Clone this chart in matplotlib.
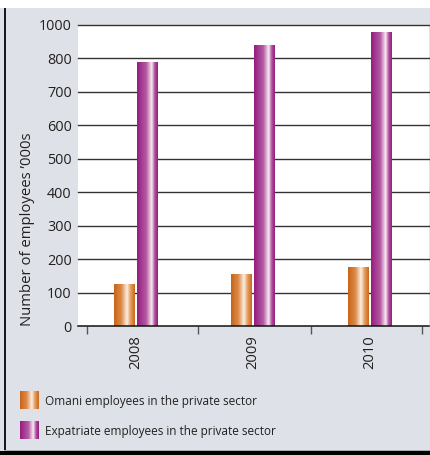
import numpy as np
import matplotlib
matplotlib.use("Agg")
import matplotlib.pyplot as plt
from matplotlib.colors import LinearSegmentedColormap
from matplotlib.patches import Rectangle

# Data (thousands of employees)
years = ["2008", "2009", "2010"]
omani = [125, 155, 176]
expatriate = [789, 837, 878]
series_names = ["Omani employees in the private sector",
                "Expatriate employees in the private sector"]
y_ticks = [0, 100, 200, 300, 400, 500, 600, 700, 800, 900]
y_tick_labels = ["0", "100", "200", "300", "400", "500", "600", "700", "800", "1000"]

plt.rcParams["font.family"] = ["Open Sans", "DejaVu Sans"]
TEXT = "#231F20"
BG = "#DEE2E8"

W, H = 430, 455
fig = plt.figure(figsize=(W / 100, H / 100), dpi=100, facecolor=BG)

# Frame decorations: white strip on top, dark rules on left and bottom
fig.patches.append(Rectangle((0, 1 - 8 / H), 1, 8 / H, transform=fig.transFigure,
                             facecolor="white", edgecolor="none", zorder=0))
fig.patches.append(Rectangle((4 / W, 0), 1.6 / W, 1 - 8 / H, transform=fig.transFigure,
                             facecolor="#1a1a1a", edgecolor="none", zorder=5))
fig.patches.append(Rectangle((0, 0), 1, 4.5 / H, transform=fig.transFigure,
                             facecolor="#000000", edgecolor="none", zorder=5))
fig.patches.append(Rectangle((4 / W, 4.5 / H), 1, 1 / H, transform=fig.transFigure,
                             facecolor="#A8ABB0", edgecolor="none", zorder=5))

orange_cmap = LinearSegmentedColormap.from_list(
    "orange_sheen",
    [(0.0, "#C8641B"), (0.35, "#DC8A47"), (0.62, "#FBEFE4"),
     (0.8, "#E49A58"), (1.0, "#CB681D")])
purple_cmap = LinearSegmentedColormap.from_list(
    "purple_sheen",
    [(0.0, "#941C7E"), (0.45, "#B65CA3"), (0.7, "#F7EDF5"),
     (0.85, "#B14E9C"), (1.0, "#941C7E")])
grad = np.linspace(0, 1, 256)[np.newaxis, :]

ax = fig.add_axes([78 / W, 1 - 326 / H, 351 / W, (326 - 24.9) / H])
ax.set_facecolor("white")

x = np.arange(len(years))
bar_w = 0.171
offset = 0.098
bars_o = ax.bar(x - offset, omani, width=bar_w, color="none", zorder=3)
bars_e = ax.bar(x + offset, expatriate, width=bar_w, color="none", zorder=3)

for bars, cmap in ((bars_o, orange_cmap), (bars_e, purple_cmap)):
    for rect in bars:
        x0, w, h = rect.get_x(), rect.get_width(), rect.get_height()
        ax.imshow(grad, extent=[x0, x0 + w, 0, h], aspect="auto",
                  cmap=cmap, zorder=3, interpolation="bilinear")

ax.set_xlim(-0.49, 2.51)
ax.set_ylim(0, 900)

# Gridlines
for v in y_ticks[1:]:
    ax.axhline(v, color="#333333", lw=1.0, zorder=1, clip_on=False)

for s in ("left", "right", "top"):
    ax.spines[s].set_visible(False)
ax.spines["bottom"].set_color("#111111")
ax.spines["bottom"].set_linewidth(1.1)
ax.spines["bottom"].set_zorder(4)

ax.set_yticks(y_ticks)
ax.set_yticklabels(y_tick_labels)
ax.tick_params(axis="y", length=0, pad=4.5, labelsize=10.4, labelcolor=TEXT)

ax.set_xticks(x)
ax.set_xticklabels(years, rotation=90)
ax.tick_params(axis="x", which="major", length=0, pad=6.5, labelsize=10.6, labelcolor=TEXT)
ax.set_xticks([-0.413, 0.538, 1.50, 2.451], minor=True)
ax.tick_params(axis="x", which="minor", length=5.5, width=1.0, color="#555555",
               direction="out")

fig.text(28 / W, 1 - 326 / H, "Number of employees \u2019000s", rotation=90,
         ha="center", va="bottom", fontsize=10.7, color=TEXT)

# Legend
legend_rows = [(orange_cmap, series_names[0], 391), (purple_cmap, series_names[1], 421)]
for cmap, label, top in legend_rows:
    sw = fig.add_axes([20 / W, 1 - (top + 18) / H, 19 / W, 18 / H])
    sw.imshow(grad, aspect="auto", cmap=cmap, interpolation="bilinear")
    sw.set_axis_off()
    fig.text(45 / W, 1 - (top + 10) / H, label, ha="left", va="center",
             fontsize=8.5, color=TEXT)

fig.savefig("out.png", dpi=100, facecolor=BG)
